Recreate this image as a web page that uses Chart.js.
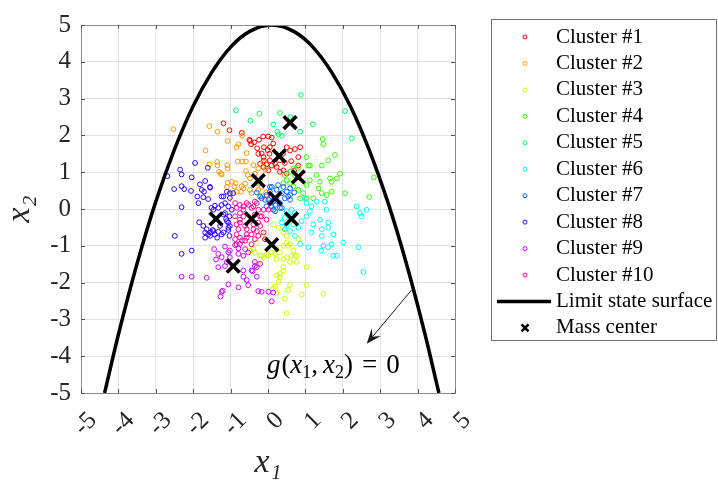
<!DOCTYPE html>
<html lang="en">
<head>
<meta charset="UTF-8">
<title>Clusters and limit state surface</title>
<script src="https://cdn.jsdelivr.net/npm/chart.js"></script>
<style>
  html, body { margin: 0; padding: 0; background: #fff; }
</style>
</head>
<body>
<canvas id="grafico" width="718" height="483"></canvas>
<script>
// values, [x1, x2] per sample
const cluster1 = [[-1.19,2.33],[-1.03,2.14],[-0.70,2.07],[-0.50,1.88],[-0.37,1.81],[-0.24,1.88],[-0.13,1.97],[0.01,1.97],[-0.45,1.76],[-0.29,1.65],[-0.11,1.68],[-0.01,1.60],[-0.17,1.51],[-0.11,1.32],[-0.04,1.21],[0.04,1.50],[0.10,1.94],[0.14,1.78],[0.05,1.68],[-0.26,1.50],[-0.12,1.41],[0.05,1.32],[0.19,1.23],[0.10,1.18],[0.23,1.14],[0.41,1.05],[0.32,1.32],[0.50,1.68],[0.59,1.59],[0.72,1.63],[0.86,1.68],[0.81,1.41],[0.81,1.18],[0.32,1.01],[0.50,0.96],[-0.12,1.14],[0.01,1.05],[-0.21,1.23],[-0.48,1.85],[0.40,1.50],[0.62,1.30],[0.45,1.25],[0.70,1.05]];
const cluster2 = [[-2.53,2.17],[-1.57,2.25],[-1.35,2.10],[-1.08,1.85],[-0.79,1.76],[-0.84,1.68],[-0.69,1.99],[-0.57,1.52],[-1.67,1.59],[-1.57,1.21],[-1.36,1.28],[-1.35,1.19],[-1.31,1.01],[-1.26,0.96],[-1.09,1.19],[-1.08,1.10],[-0.81,1.29],[-0.69,1.29],[-0.59,1.29],[-0.39,1.19],[-0.26,1.10],[-0.35,0.96],[-0.12,1.25],[-0.07,1.07],[-0.59,1.03],[-0.54,0.92],[-1.08,0.71],[-0.86,0.70],[-0.70,0.62],[-0.90,0.61],[-0.84,0.47],[-0.72,0.47],[-0.66,0.56],[-0.48,0.52],[-0.44,0.43],[-0.26,0.52],[-1.24,0.94],[-1.10,0.60],[-0.97,0.74],[-0.61,0.69],[-0.48,0.83],[-0.30,0.70],[-0.17,0.60],[-0.21,0.78],[-0.05,0.45],[-0.15,0.35]];
const cluster3 = [[-0.48,-1.13],[-0.35,-1.18],[-0.21,-1.26],[-0.12,-1.31],[-0.04,-1.25],[0.10,-1.18],[0.23,-1.09],[0.41,-1.00],[0.54,-1.00],[0.68,-1.13],[0.50,-1.31],[0.63,-1.27],[0.77,-1.27],[0.77,-1.44],[1.03,-1.58],[0.41,-1.67],[0.23,-1.80],[0.32,-1.85],[0.28,-1.98],[0.19,-2.11],[0.14,-2.16],[0.59,-2.07],[0.54,-2.20],[1.03,-2.07],[0.90,-2.32],[1.48,-2.31],[0.45,-2.44],[0.50,-2.83],[-0.26,-1.49],[-0.17,-0.64],[-0.12,-0.73],[-0.08,-0.82],[-0.30,-0.91],[-0.39,-1.09],[-0.17,-1.26],[0.01,-1.26],[0.19,-1.22],[0.32,-1.18],[0.50,-0.91],[0.59,-0.95],[0.72,-1.27],[0.41,-1.36],[0.23,-1.36],[0.59,-1.44],[0.41,-1.58],[0.81,-0.82],[0.14,-0.42],[0.28,-0.51],[0.41,-0.64],[0.50,-0.73],[0.32,-1.76],[0.23,-2.29]];
const cluster4 = [[0.68,1.10],[0.72,0.92],[0.81,1.12],[0.59,1.01],[0.50,0.78],[0.45,0.92],[0.41,0.70],[0.59,0.70],[0.68,0.61],[0.81,0.52],[0.94,0.43],[1.03,0.65],[1.12,0.78],[1.08,1.18],[1.03,1.41],[1.12,1.18],[1.30,0.92],[1.39,0.74],[1.44,1.18],[1.61,1.32],[1.79,1.47],[1.93,0.96],[1.84,0.83],[1.66,0.83],[1.70,0.74],[1.48,1.76],[0.86,0.29],[1.03,0.29],[1.21,0.29],[1.35,0.56],[1.44,0.43],[1.57,0.38],[1.70,0.47],[2.06,0.43],[2.83,0.86],[2.71,0.33],[1.46,1.90]];
const cluster5 = [[-0.86,2.68],[-0.23,2.59],[-0.47,2.40],[0.32,2.61],[0.88,3.10],[0.14,2.30],[0.25,2.10],[0.37,1.99],[0.28,2.03],[0.86,2.10],[2.06,2.66],[2.24,1.92],[1.20,2.30],[0.60,2.50]];
const cluster6 = [[0.50,-0.06],[0.63,-0.02],[0.72,-0.11],[0.59,-0.20],[0.45,-0.24],[0.37,-0.37],[0.50,-0.46],[0.68,-0.42],[0.81,-0.51],[0.90,-0.33],[1.03,-0.20],[1.12,-0.06],[1.16,0.07],[1.03,0.16],[0.99,0.29],[1.30,0.20],[1.52,0.20],[1.57,-0.02],[1.39,-0.29],[1.21,-0.42],[1.16,-0.64],[1.44,-0.55],[1.61,-0.37],[1.61,-0.51],[1.44,-0.73],[1.75,-0.69],[1.48,-1.00],[1.70,-0.96],[1.84,-1.27],[1.75,-1.27],[2.01,-0.91],[2.37,0.07],[2.46,-0.11],[2.64,-0.02],[2.42,-1.04],[2.55,-1.71],[1.08,-1.04],[0.86,-0.95],[0.72,-0.73],[0.59,-0.60],[0.45,-0.55],[2.50,-0.20],[1.42,-1.13],[1.61,-1.04]];
const cluster7 = [[-0.17,0.29],[-0.04,0.38],[0.05,0.47],[0.10,0.34],[0.23,0.52],[0.37,0.43],[0.45,0.29],[0.32,0.16],[0.19,0.11],[0.05,0.16],[-0.04,0.07],[-0.08,0.25],[0.14,-0.02],[0.32,0.03],[0.41,0.60],[0.27,0.65],[0.05,0.60],[0.50,0.47],[0.59,0.56],[-0.21,0.34],[0.10,0.60],[0.59,0.38],[0.01,0.25],[0.14,0.20],[0.23,0.29],[0.54,0.34],[0.59,0.25],[0.10,0.07],[0.19,-0.06],[0.37,0.03],[-0.30,0.45],[0.70,0.45]];
const cluster8 = [[-2.69,0.89],[-2.35,1.07],[-2.31,0.94],[-1.95,1.25],[-2.04,0.86],[-2.51,0.54],[-2.31,0.62],[-2.24,0.54],[-2.06,0.49],[-2.31,0.05],[-1.89,0.34],[-1.86,0.16],[-1.82,0.67],[-1.71,0.47],[-1.68,0.76],[-1.55,0.58],[-1.60,0.27],[-1.61,1.12],[-1.24,0.34],[-1.02,0.43],[-1.73,0.32],[-1.51,0.03],[-1.42,0.09],[-1.84,-0.36],[-1.73,-0.46],[-1.64,-0.55],[-1.53,-0.64],[-1.42,-0.69],[-1.33,-0.62],[-1.24,-0.69],[-1.36,-0.78],[-1.55,-0.73],[-1.68,-0.64],[-1.48,-0.57],[-1.06,-0.37],[-1.02,-0.46],[-1.06,-0.57],[-1.03,-0.73],[-1.12,-0.27],[-1.15,-0.11],[-1.03,-0.20],[-2.49,-0.73],[-2.31,-1.22],[-2.04,-1.13],[-1.46,-0.02],[-1.33,0.03],[-1.24,0.11],[-1.15,0.16],[-1.06,0.07],[-0.97,-0.02],[-1.19,-0.15],[-1.10,-0.33],[-1.28,-0.46],[-1.46,-0.60],[-1.60,-0.69],[-1.68,-0.78],[-1.19,-0.64],[-1.06,-0.51],[-0.93,0.43],[-1.02,0.30],[-1.19,0.34],[-1.10,0.47],[-1.77,0.52],[-1.55,0.60]];
const cluster9 = [[-1.44,-1.09],[-1.33,-1.22],[-1.15,-1.02],[-1.02,-1.13],[-0.88,-0.98],[-0.79,-1.07],[-0.75,-0.95],[-1.39,-1.37],[-1.33,-1.58],[-1.15,-1.55],[-1.64,-1.87],[-1.06,-2.05],[-1.24,-2.25],[-1.27,-2.38],[-0.79,-2.13],[-0.66,-1.84],[-0.57,-1.93],[-0.53,-2.07],[-0.44,-1.67],[-0.35,-1.44],[-0.35,-1.55],[-0.30,-1.84],[-0.17,-2.25],[0.01,-2.25],[0.10,-2.51],[-0.53,-1.18],[-1.06,-1.18],[-1.24,-1.31],[-1.10,-1.44],[-1.02,-1.31],[-0.79,-1.22],[-0.66,-1.27],[-0.21,-1.49],[-0.30,-1.58],[-2.31,-1.84],[-2.04,-1.84],[-1.21,-2.22],[-0.26,-2.23],[0.14,-2.27],[-0.41,-1.69],[-0.66,-1.67],[-0.61,-1.09]];
const cluster10 = [[-0.84,0.03],[-0.75,-0.11],[-0.66,0.07],[-0.57,0.16],[-0.44,0.03],[-0.30,0.16],[-0.26,-0.02],[-0.35,-0.15],[-0.17,-0.20],[-0.75,-0.29],[-0.84,-0.42],[-0.61,-0.46],[-0.84,-0.69],[-0.75,-0.78],[-0.88,-0.82],[-0.70,-0.86],[-0.57,-0.78],[-0.44,-0.69],[-0.30,-0.60],[-0.35,-0.82],[-0.21,-0.46],[-0.12,-0.64],[-0.04,-0.29],[0.01,-0.02],[-0.39,-0.42],[-0.57,-0.55],[-0.08,-0.82],[-0.75,0.11],[-0.66,-0.02],[-0.52,0.11],[-0.39,0.07],[-0.35,0.20],[-0.66,-0.20],[-0.75,-0.37],[-0.79,-0.55],[-0.57,-0.69],[-0.39,-0.55],[-0.26,-0.37],[-0.21,-0.20],[-0.12,-0.02],[-0.84,-0.96],[-0.61,-0.86],[-0.44,-0.96],[-0.26,-0.73],[-0.88,-0.20],[-0.88,0.16]];

const clusters = [cluster1, cluster2, cluster3, cluster4, cluster5, cluster6, cluster7, cluster8, cluster9, cluster10];
const clusterLabels = ["Cluster #1", "Cluster #2", "Cluster #3", "Cluster #4", "Cluster #5", "Cluster #6", "Cluster #7", "Cluster #8", "Cluster #9", "Cluster #10"];
const clusterColors = ["#ff0000", "#ff9900", "#ccff00", "#33ff00", "#00ff66", "#00ffff", "#0066ff", "#3300ff", "#cc00ff", "#ff0099"];

// mass centres, one per cluster
const massX = [0.30, -0.26, 0.10, 0.81, 0.59, 0.63, 0.19, -1.39, -0.93, -0.44];
const massY = [1.44, 0.77, -0.97, 0.87, 2.35, -0.27, 0.29, -0.27, -1.55, -0.27];

// limit state surface g(x1,x2) = 0
const limitX = [-4.37, -4.0, -3.5, -3.0, -2.5, -2.0, -1.5, -1.0, -0.5, 0.1, 0.7, 1.2, 1.7, 2.2, 2.7, 3.2, 3.7, 4.2, 4.57];
const limitY = [-5.0, -3.41, -1.48, 0.20, 1.62, 2.80, 3.72, 4.40, 4.82, 5.0, 4.82, 4.40, 3.72, 2.80, 1.62, 0.20, -1.48, -3.41, -5.0];

const tickValues = [-5, -4, -3, -2, -1, 0, 1, 2, 3, 4, 5];

// annotation arrow and label, in data units
const arrowFrom = [3.84, -2.20];
const arrowTo = [2.64, -3.66];
const labelAt = [-0.03, -4.47];

const serif = '"Liberation Serif", "Times New Roman", serif';

const datasets = clusters.map((pts, i) => ({
    label: clusterLabels[i],
    data: pts.map(p => ({ x: p[0], y: p[1] })),
    pointStyle: 'circle',
    pointRadius: 2.4,
    borderWidth: 1,
    borderColor: clusterColors[i],
    backgroundColor: 'rgba(0,0,0,0)',
    order: 12 - i
}));

datasets.push({
    label: 'Limit state surface',
    data: limitX.map((v, i) => ({ x: v, y: limitY[i] })),
    showLine: true,
    pointRadius: 0,
    borderColor: '#000',
    borderWidth: 3.5,
    cubicInterpolationMode: 'monotone',
    order: 1
});

datasets.push({
    label: 'Mass center',
    data: massX.map((v, i) => ({ x: v, y: massY[i] })),
    pointStyle: 'crossRot',
    pointRadius: 9,
    borderWidth: 3.6,
    borderColor: '#000',
    backgroundColor: '#000',
    order: 0
});

// legend box drawn by hand (MATLAB style)
const lg = { left: 491, top: 19, width: 226, height: 322, rowTop: 37, rowStep: 26.45, markX: 525, textX: 556, lineLeft: 497, lineRight: 551 };

function drawLegend(chart) {
    const ctx = chart.ctx;
    ctx.save();
    ctx.fillStyle = '#fff';
    ctx.fillRect(lg.left, lg.top, lg.width, lg.height);
    ctx.strokeStyle = '#707070';
    ctx.lineWidth = 1;
    ctx.strokeRect(lg.left + 0.5, lg.top + 0.5, lg.width - 1, lg.height - 1);
    ctx.font = '21px ' + serif;
    ctx.textBaseline = 'middle';
    chart.data.datasets.forEach((d, row) => {
        const yy = lg.rowTop + row * lg.rowStep;
        if (d.showLine) {
            ctx.strokeStyle = d.borderColor;
            ctx.lineWidth = 3.5;
            ctx.beginPath();
            ctx.moveTo(lg.lineLeft, yy);
            ctx.lineTo(lg.lineRight, yy);
            ctx.stroke();
        } else if (d.pointStyle === 'crossRot') {
            ctx.strokeStyle = d.borderColor;
            ctx.lineWidth = 2.6;
            ctx.beginPath();
            ctx.moveTo(lg.markX - 3.5, yy - 3.5); ctx.lineTo(lg.markX + 3.5, yy + 3.5);
            ctx.moveTo(lg.markX + 3.5, yy - 3.5); ctx.lineTo(lg.markX - 3.5, yy + 3.5);
            ctx.stroke();
        } else {
            ctx.strokeStyle = d.borderColor;
            ctx.lineWidth = 1;
            ctx.beginPath();
            ctx.arc(lg.markX, yy, 2, 0, Math.PI * 2);
            ctx.stroke();
        }
        ctx.fillStyle = '#000';
        ctx.fillText(d.label, lg.textX, yy);
    });
    ctx.restore();
}

// g(x1,x2) = 0 written in pieces: [text, italic, size, drop, gap after]
const labelParts = [['g', true, 27, 0, 1], ['(', false, 27, 0, 0], ['x', true, 27, 0, 0], ['1', false, 18, 5, 0], [',', false, 27, 0, 5],
    ['x', true, 27, 0, 0], ['2', false, 18, 5, 0], [')', false, 27, 0, 9], ['=', false, 27, 0, 9], ['0', false, 27, 0, 0]];

const extras = {
    id: 'extras',
    afterDraw(chart) {
        const { ctx, chartArea: a, scales: { x, y } } = chart;
        ctx.save();
        // top and right border of the box
        ctx.strokeStyle = '#8a8a8a';
        ctx.lineWidth = 1;
        ctx.beginPath();
        ctx.moveTo(a.left, a.top + 0.5);
        ctx.lineTo(a.right + 0.5, a.top + 0.5);
        ctx.lineTo(a.right + 0.5, a.bottom);
        ctx.stroke();
        // inward tick marks on all four sides
        ctx.strokeStyle = '#555';
        ctx.beginPath();
        tickValues.forEach(v => {
            const px = Math.round(x.getPixelForValue(v)) + 0.5;
            const py = Math.round(y.getPixelForValue(v)) + 0.5;
            ctx.moveTo(px, a.bottom); ctx.lineTo(px, a.bottom - 4);
            ctx.moveTo(px, a.top); ctx.lineTo(px, a.top + 4);
            ctx.moveTo(a.left, py); ctx.lineTo(a.left + 4, py);
            ctx.moveTo(a.right, py); ctx.lineTo(a.right - 4, py);
        });
        ctx.stroke();

        // arrow
        const x0 = x.getPixelForValue(arrowFrom[0]), y0 = y.getPixelForValue(arrowFrom[1]);
        const x1 = x.getPixelForValue(arrowTo[0]), y1 = y.getPixelForValue(arrowTo[1]);
        const ang = Math.atan2(y1 - y0, x1 - x0);
        const headLen = 15, headW = 6;
        ctx.strokeStyle = '#1a1a1a';
        ctx.fillStyle = '#1a1a1a';
        ctx.lineWidth = 1;
        ctx.beginPath();
        ctx.moveTo(x0, y0);
        ctx.lineTo(x1 - Math.cos(ang) * headLen * 0.6, y1 - Math.sin(ang) * headLen * 0.6);
        ctx.stroke();
        ctx.beginPath();
        ctx.moveTo(x1, y1);
        ctx.lineTo(x1 - Math.cos(ang) * headLen - Math.sin(ang) * headW, y1 - Math.sin(ang) * headLen + Math.cos(ang) * headW);
        ctx.lineTo(x1 - Math.cos(ang) * headLen * 0.6, y1 - Math.sin(ang) * headLen * 0.6);
        ctx.lineTo(x1 - Math.cos(ang) * headLen + Math.sin(ang) * headW, y1 - Math.sin(ang) * headLen - Math.cos(ang) * headW);
        ctx.closePath();
        ctx.fill();

        // label
        let tx = x.getPixelForValue(labelAt[0]);
        const ty = y.getPixelForValue(labelAt[1]);
        ctx.fillStyle = '#000';
        ctx.textBaseline = 'alphabetic';
        labelParts.forEach(([t, it, size, drop, gap]) => {
            ctx.font = (it ? 'italic ' : '') + size + 'px ' + serif;
            ctx.fillText(t, tx, ty + drop);
            tx += ctx.measureText(t).width + gap;
        });
        ctx.restore();

        drawLegend(chart);
    }
};

const tickFont = { family: serif, size: 25 };
const titleFont = { family: serif, size: 34, style: 'italic' };

new Chart(document.getElementById('grafico'), {
    type: 'scatter',
    data: { datasets: datasets },
    options: {
        responsive: false,
        animation: false,
        devicePixelRatio: 1,
        layout: { padding: { left: 0, top: 19, right: 263, bottom: 0 } },
        plugins: { legend: { display: false }, tooltip: { enabled: false } },
        scales: {
            x: {
                type: 'linear', min: -5, max: 5,
                afterBuildTicks: s => { s.ticks = tickValues.map(v => ({ value: v })); },
                afterFit: s => { s.height = 90; s.paddingLeft = 0; s.paddingRight = 0; },
                grid: { color: '#e3e3e3', drawTicks: false },
                border: { color: '#8a8a8a' },
                ticks: { font: tickFont, color: '#262626', minRotation: 45, maxRotation: 45, labelOffset: 12, padding: 13, autoSkip: false },
                title: { display: true, text: 'x₁', font: titleFont, color: '#262626', padding: 0 }
            },
            y: {
                type: 'linear', min: -5, max: 5,
                afterBuildTicks: s => { s.ticks = tickValues.map(v => ({ value: v })); },
                afterFit: s => { s.width = 81; },
                grid: { color: '#e3e3e3', drawTicks: false },
                border: { color: '#8a8a8a' },
                ticks: { font: tickFont, color: '#262626', padding: 10, autoSkip: false },
                title: { display: true, text: 'x₂', font: titleFont, color: '#262626', padding: 0 }
            }
        }
    },
    plugins: [extras]
});
</script>
</body>
</html>
